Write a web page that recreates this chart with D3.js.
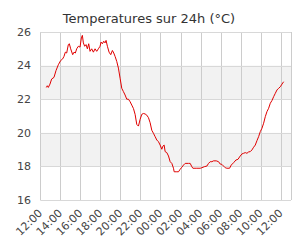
<!DOCTYPE html>
<html>
<head>
<meta charset="utf-8">
<script src="https://cdn.jsdelivr.net/npm/d3@7"></script>
<style>
  body { margin: 0; background: #fff; }
  svg { display: block; font-family: "DejaVu Sans", sans-serif; }
</style>
</head>
<body>
<svg id="chart" width="300" height="250"></svg>
<script>
// minutes after 12:00 (day 1)
const minutes = [36, 42, 48, 58, 68, 82, 94, 108, 122, 134, 142, 150, 158, 168, 174, 182, 194, 202, 210, 218,
  228, 238, 246, 252, 258, 266, 274, 282, 290, 298, 308, 318, 328, 338, 348, 358, 364, 372, 380, 388,
  394, 402, 412, 422, 432, 440, 448, 458, 468, 478, 488, 498, 508, 518, 528, 538, 548, 558, 568, 578,
  588, 598, 608, 618, 628, 638, 648, 658, 668, 678, 688, 698, 708, 718, 728, 734, 742, 748, 758, 768,
  778, 788, 798, 802, 818, 828, 838, 848, 858, 868, 888, 898, 908, 914, 938, 958, 968, 982, 998, 1008,
  1018, 1028, 1038, 1054, 1068, 1078, 1088, 1098, 1108, 1118, 1134, 1144, 1158, 1172, 1184, 1198, 1208, 1218, 1228, 1238,
  1248, 1258, 1268, 1278, 1288, 1298, 1308, 1318, 1328, 1338, 1348, 1358, 1368, 1378, 1388, 1398, 1408, 1418, 1428, 1438,
  1448, 1458];
const temps = [22.7, 22.8, 22.7, 22.9, 23.2, 23.3, 23.7, 24.05, 24.3, 24.4, 24.55, 24.8, 24.75, 25.25, 25.3, 25.0, 24.65, 24.8, 24.75, 25.0,
  25.15, 25.1, 25.65, 25.8, 25.35, 25.15, 25.25, 25.0, 25.3, 24.85, 25.0, 24.8, 25.0, 24.85, 25.0, 25.15, 25.4, 25.3, 25.45, 25.35,
  25.5, 25.15, 24.8, 24.65, 24.9, 24.75, 24.55, 24.25, 23.85, 23.25, 22.65, 22.45, 22.25, 22.0, 22.0, 21.85, 21.65, 21.45, 21.1, 20.5,
  20.4, 20.8, 21.1, 21.15, 21.12, 21.05, 20.9, 20.6, 20.15, 19.97, 19.77, 19.57, 19.47, 19.27, 19.02, 19.2, 19.27, 18.88, 18.82, 18.62,
  18.28, 18.18, 17.89, 17.68, 17.68, 17.68, 17.83, 17.95, 18.08, 18.18, 18.18, 18.18, 17.98, 17.89, 17.89, 17.89, 17.92, 17.98, 18.02, 18.18,
  18.28, 18.28, 18.33, 18.33, 18.28, 18.14, 18.12, 18.02, 17.92, 17.89, 17.89, 18.08, 18.22, 18.38, 18.42, 18.62, 18.74, 18.78, 18.82, 18.78,
  18.86, 18.88, 18.98, 19.14, 19.27, 19.53, 19.77, 20.07, 20.27, 20.57, 20.96, 21.26, 21.46, 21.76, 21.92, 22.15, 22.35, 22.55, 22.65, 22.74,
  22.9, 23.04];
const yTicks = [16, 18, 20, 22, 24, 26];
const bands = [[18, 20], [22, 24]];
const title = "Temperatures sur 24h (°C)";

const start = new Date(2024, 0, 1, 12, 0);
const data = minutes.map((m, i) => ({ t: new Date(+start + m * 60000), v: temps[i] }));

const svg = d3.select("#chart");
const margin = { top: 32, right: 9, bottom: 50, left: 40 };
const W = 300, H = 250;

const x = d3.scaleTime()
  .domain([start, new Date(+start + 1502 * 60000)])
  .range([margin.left + 0.3, W - margin.right]);
const y = d3.scaleLinear().domain([16, 26]).range([H - margin.bottom, margin.top]);

// alternating bands
svg.append("g").selectAll("rect")
  .data(bands)
  .join("rect")
  .attr("x", x.range()[0])
  .attr("width", x.range()[1] - x.range()[0])
  .attr("y", d => y(d[1]))
  .attr("height", d => y(d[0]) - y(d[1]))
  .attr("fill", "#f2f2f2");

// grid
const hourTicks = x.ticks(d3.timeHour.every(2));
svg.append("g")
  .attr("stroke", "#cccccc")
  .attr("stroke-width", 1)
  .selectAll("line")
  .data(hourTicks)
  .join("line")
  .attr("x1", d => Math.round(x(d)) + 0.5)
  .attr("x2", d => Math.round(x(d)) + 0.5)
  .attr("y1", y(26))
  .attr("y2", y(16));

svg.append("g")
  .attr("stroke", "#d8d8d8")
  .selectAll("line")
  .data(yTicks)
  .join("line")
  .attr("x1", x.range()[0])
  .attr("x2", x.range()[1])
  .attr("y1", d => Math.round(y(d)) + 0.5)
  .attr("y2", d => Math.round(y(d)) + 0.5);

// right border
svg.append("line")
  .attr("x1", Math.round(x.range()[1]) + 0.5)
  .attr("x2", Math.round(x.range()[1]) + 0.5)
  .attr("y1", y(26)).attr("y2", y(16))
  .attr("stroke", "#cccccc");

// y labels
svg.append("g").selectAll("text")
  .data(yTicks)
  .join("text")
  .attr("x", 31)
  .attr("y", d => y(d))
  .attr("dy", "0.35em")
  .attr("text-anchor", "end")
  .attr("font-size", 11)
  .attr("fill", "#444")
  .text(d => d);

// x labels
const fmt = d3.timeFormat("%H:%M");
svg.append("g").selectAll("text")
  .data(hourTicks)
  .join("text")
  .attr("transform", d => `translate(${x(d)},${y(16) + 11}) rotate(-45)`)
  .attr("text-anchor", "end")
  .attr("dy", "0.35em")
  .attr("font-size", 11)
  .attr("fill", "#444")
  .text(fmt);

// line
svg.append("path")
  .datum(data)
  .attr("fill", "none")
  .attr("stroke", "#e00000")
  .attr("stroke-width", 1)
  .attr("d", d3.line().x(d => x(d.t)).y(d => y(d.v)));

// title
svg.append("text")
  .attr("x", 149)
  .attr("y", 23)
  .attr("text-anchor", "middle")
  .attr("font-size", 13)
  .attr("fill", "#333")
  .text(title);
</script>
</body>
</html>
